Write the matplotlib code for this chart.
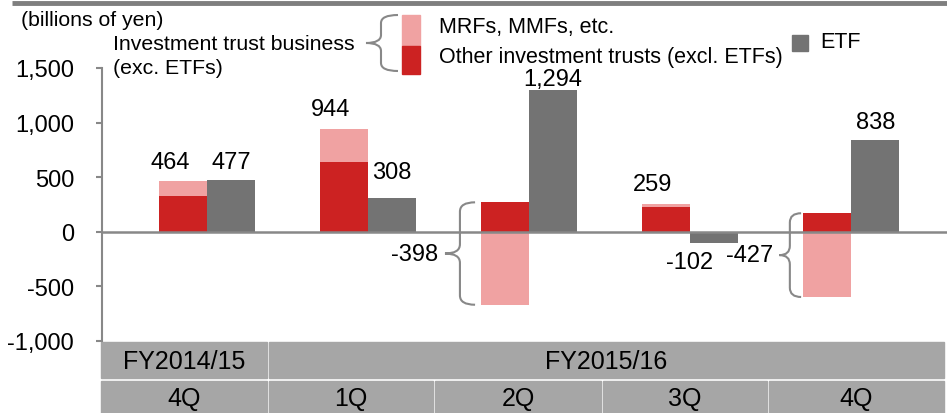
import numpy as np
import matplotlib
matplotlib.use("Agg")
import matplotlib.pyplot as plt
from matplotlib.path import Path
from matplotlib.patches import PathPatch, Rectangle

plt.rcParams['font.family'] = ['Liberation Sans', 'DejaVu Sans']

# data (billions of yen)
quarters = ['4Q', '1Q', '2Q', '3Q', '4Q']
fiscal_years = ['FY2014/15', 'FY2015/16']
other_trusts = np.array([325, 640, 270, 230, 170])
mrf_mmf = np.array([139, 304, -668, 29, -597])
trust_total = np.array([464, 944, -398, 259, -427])
etf = np.array([477, 308, 1294, -102, 838])
yticks = [-1000, -500, 0, 500, 1000, 1500]

RED = '#cc2222'
PINK = '#f0a2a2'
DGRAY = '#737373'
LGRAY = '#888888'
TBL = '#a6a6a6'


def brace(axis, x_end, x_stem, x_tip, y_top, y_bot, r, transform=None):
    y_mid = (y_top + y_bot) / 2
    s = 1 if y_top > y_bot else -1
    verts = [(x_end, y_top), (x_stem, y_top), (x_stem, y_top - s * r),
             (x_stem, y_mid + s * r), (x_stem, y_mid), (x_tip, y_mid),
             (x_stem, y_mid), (x_stem, y_mid - s * r),
             (x_stem, y_bot + s * r), (x_stem, y_bot), (x_end, y_bot)]
    codes = [Path.MOVETO, Path.CURVE3, Path.CURVE3, Path.LINETO,
             Path.CURVE3, Path.CURVE3, Path.CURVE3, Path.CURVE3,
             Path.LINETO, Path.CURVE3, Path.CURVE3]
    p = PathPatch(Path(verts, codes), fill=False, edgecolor=LGRAY, lw=1.5,
                  transform=transform if transform is not None else axis.transData,
                  clip_on=False)
    axis.add_patch(p)
    return y_mid


fig = plt.figure(figsize=(9.47, 4.14), dpi=100)

# overlay in pixel coords for legend, header line and table
ov = fig.add_axes([0, 0, 1, 1])
ov.set_xlim(0, 947)
ov.set_ylim(414, 0)
ov.axis('off')

ax = fig.add_axes([102 / 947, (414 - 342) / 414, 845 / 947, 273 / 414])
ax.patch.set_visible(False)

x = np.arange(len(quarters))
w = 0.3
pink_bottom = np.where(mrf_mmf > 0, other_trusts, 0)
ax.bar(x - w / 2, other_trusts, w, color=RED, zorder=2)
ax.bar(x - w / 2, mrf_mmf, w, bottom=pink_bottom, color=PINK, zorder=2)
ax.bar(x + w / 2, etf, w, color=DGRAY, zorder=2)

ax.set_xlim(-0.652, 4.596)
ax.set_ylim(-1000, 1500)
ax.set_yticks(yticks)
ax.set_yticklabels([f'{v:,}' for v in yticks], fontsize=17)
ax.set_xticks([])
for s in ['top', 'right', 'bottom']:
    ax.spines[s].set_visible(False)
ax.spines['left'].set_color(LGRAY)
ax.spines['left'].set_linewidth(1.5)
ax.tick_params(axis='y', length=4, width=1.5, color=LGRAY, pad=16)
ax.axhline(0, color=LGRAY, lw=1.8, zorder=3, clip_on=False)

# labels
for i in range(len(x)):
    t = trust_total[i]
    if t > 0:
        top = other_trusts[i] + max(mrf_mmf[i], 0)
        ax.annotate(f'{t:,}', (x[i] - w / 2 - 0.08, top), xytext=(0, 6),
                    textcoords='offset points', ha='center', va='bottom', fontsize=17)
    else:
        xl = x[i] - w
        if i == 2:
            offs = (-0.035, -0.129, -0.222)
        else:
            offs = (-0.01, -0.08, -0.145)
        ym = brace(ax, xl + offs[0], xl + offs[1], xl + offs[2],
                   other_trusts[i], mrf_mmf[i], 85)
        ax.text(xl + offs[2] - 0.04, ym, f'{t:,}', ha='right', va='center', fontsize=17)
    e = etf[i]
    if e > 0:
        dy = 0 if e > 1000 else (11 if i == 1 else 5)
        ax.annotate(f'{e:,}', (x[i] + w / 2, e), xytext=(0, dy),
                    textcoords='offset points', ha='center', va='bottom', fontsize=17)
    else:
        ax.annotate(f'{e:,}', (x[i] + w / 2 - 0.15, e), xytext=(0, -6),
                    textcoords='offset points', ha='center', va='top', fontsize=17)

ov.plot([12, 947], [4, 4], color='#7f7f7f', lw=3.5, solid_capstyle='butt')
ov.text(21, 20, '(billions of yen)', fontsize=15.3, va='center')
ov.text(113, 44, 'Investment trust business', fontsize=15.3, va='center')
ov.text(113, 69, '(exc. ETFs)', fontsize=15.3, va='center')
brace(ov, 398, 381, 366, 16, 72, 8, transform=ov.transData)
ov.add_patch(Rectangle((402, 16), 18, 31, color=PINK))
ov.add_patch(Rectangle((402, 47), 18, 28, color=RED))
ov.text(439, 28, 'MRFs, MMFs, etc.', fontsize=15.5, va='center')
ov.text(439, 58, 'Other investment trusts (excl. ETFs)', fontsize=15.5, va='center')
ov.add_patch(Rectangle((792, 36), 16, 16, color=DGRAY))
ov.text(820, 43, 'ETF', fontsize=15.5, va='center')

# header table
col_edges = [100, 268, 434, 602, 768, 945]
row1 = (343, 379)
row2 = (382, 414)
fy_spans = [(col_edges[0], col_edges[1]), (col_edges[1], col_edges[-1])]
for (a, b), lab in zip(fy_spans, fiscal_years):
    ov.add_patch(Rectangle((a + 1, row1[0]), b - a - 2, row1[1] - row1[0], color=TBL))
    ov.text((a + b) / 2, (row1[0] + row1[1]) / 2 + 1, lab, fontsize=18,
            ha='center', va='center')
for i, lab in enumerate(quarters):
    a, b = col_edges[i], col_edges[i + 1]
    ov.add_patch(Rectangle((a + 1, row2[0]), b - a - 2, row2[1] - row2[0], color=TBL))
    ov.text((a + b) / 2, (row2[0] + row2[1]) / 2 + 1, lab, fontsize=18,
            ha='center', va='center')

fig.savefig('out.png', dpi=100)
